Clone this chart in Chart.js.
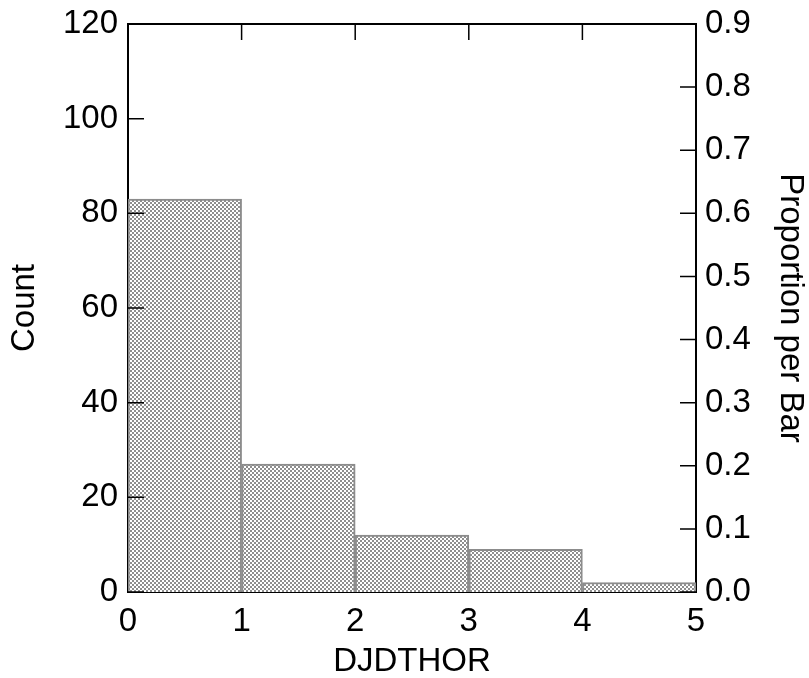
<!DOCTYPE html>
<html lang="en">
<head>
<meta charset="UTF-8">
<title>DJDTHOR histogram</title>
<style>
  body {
    margin: 0;
    padding: 0;
    background: #fff;
  }
  canvas {
    display: block;
  }
</style>
</head>
<body>
<canvas id="histChart" width="809" height="678"></canvas>

<script src="https://cdn.jsdelivr.net/npm/chart.js"></script>
<script>
  // bin edges and counts
  const binEdges = [0, 1, 2, 3, 4, 5];
  const counts = [83, 27, 12, 9, 2];
  const countMax = 120;
  const propMax = 0.9;

  const fontFamily = "'Liberation Sans', Arial, Helvetica, sans-serif";

  // fine crosshatch fill like the original
  function makeHatch() {
    const c = document.createElement('canvas');
    c.width = 4;
    c.height = 4;
    const g = c.getContext('2d');
    g.fillStyle = '#ffffff';
    g.fillRect(0, 0, 4, 4);
    g.fillStyle = '#8e8e8e';
    g.fillRect(0, 0, 2, 2);
    g.fillRect(2, 2, 2, 2);
    return g.createPattern(c, 'repeat');
  }

  const histData = counts.map((n, i) => ({ x: (binEdges[i] + binEdges[i + 1]) / 2, y: n }));

  // tick marks that point into the plot
  const innerTicks = {
    id: 'innerTicks',
    afterDatasetsDraw(chart) {
      const { ctx, chartArea: a, scales } = chart;
      const len = 16;
      ctx.save();
      ctx.strokeStyle = '#000';
      ctx.lineWidth = 1.5;
      ctx.beginPath();
      scales.y.ticks.forEach((t, i) => {
        const p = scales.y.getPixelForTick(i);
        ctx.moveTo(a.left, p);
        ctx.lineTo(a.left + len, p);
      });
      scales.y2.ticks.forEach((t, i) => {
        const p = scales.y2.getPixelForTick(i);
        ctx.moveTo(a.right, p);
        ctx.lineTo(a.right - len, p);
      });
      scales.x.ticks.forEach((t, i) => {
        const p = scales.x.getPixelForTick(i);
        ctx.moveTo(p, a.top);
        ctx.lineTo(p, a.top + len);
      });
      ctx.stroke();
      ctx.restore();
    }
  };

  Chart.defaults.color = '#000';
  Chart.defaults.font.family = fontFamily;
  Chart.defaults.font.size = 33;

  const histChart = new Chart(document.getElementById('histChart'), {
    type: 'bar',
    data: {
      datasets: [{
        label: 'Count',
        data: histData,
        backgroundColor: makeHatch(),
        borderColor: '#8c8c8c',
        borderWidth: 2,
        barPercentage: 1,
        categoryPercentage: 1,
        xAxisID: 'x',
        yAxisID: 'y'
      }]
    },
    options: {
      responsive: false,
      animation: false,
      layout: { padding: 0 },
      plugins: {
        legend: { display: false },
        tooltip: { enabled: false }
      },
      scales: {
        x: {
          type: 'linear',
          position: 'bottom',
          min: binEdges[0],
          max: binEdges[binEdges.length - 1],
          offset: false,
          grid: { display: false, drawTicks: false },
          border: { display: true, color: '#000', width: 2 },
          ticks: { stepSize: 1, padding: 10 },
          title: {
            display: true,
            text: 'DJDTHOR',
            font: { size: 33, lineHeight: 1 },
            padding: { top: 0, bottom: 0 }
          },
          afterFit(s) { s.height = 86; }
        },
        x2: {
          type: 'linear',
          position: 'top',
          min: binEdges[0],
          max: binEdges[binEdges.length - 1],
          grid: { display: false, drawTicks: false },
          border: { display: true, color: '#000', width: 2 },
          ticks: { display: false },
          afterFit(s) { s.height = 24; }
        },
        y: {
          position: 'left',
          min: 0,
          max: countMax,
          grid: { display: false, drawTicks: false },
          border: { display: true, color: '#000', width: 2 },
          ticks: { stepSize: 20, padding: 10, font: { size: 33, lineHeight: 0.8 } },
          title: {
            display: true,
            text: 'Count',
            font: { size: 33, lineHeight: 1 },
            padding: { top: 8, bottom: 0 }
          },
          afterFit(s) { s.width = 128; }
        },
        y2: {
          position: 'right',
          min: 0,
          max: propMax,
          grid: { display: false, drawTicks: false },
          border: { display: true, color: '#000', width: 2 },
          ticks: {
            stepSize: 0.1,
            padding: 9,
            font: { size: 33, lineHeight: 0.8 },
            callback: v => v.toFixed(1)
          },
          title: {
            display: true,
            text: 'Proportion per Bar',
            font: { size: 33, lineHeight: 1 },
            padding: { top: 2, bottom: 0 }
          },
          afterFit(s) { s.width = 113; }
        }
      }
    },
    plugins: [innerTicks]
  });
</script>
</body>
</html>
